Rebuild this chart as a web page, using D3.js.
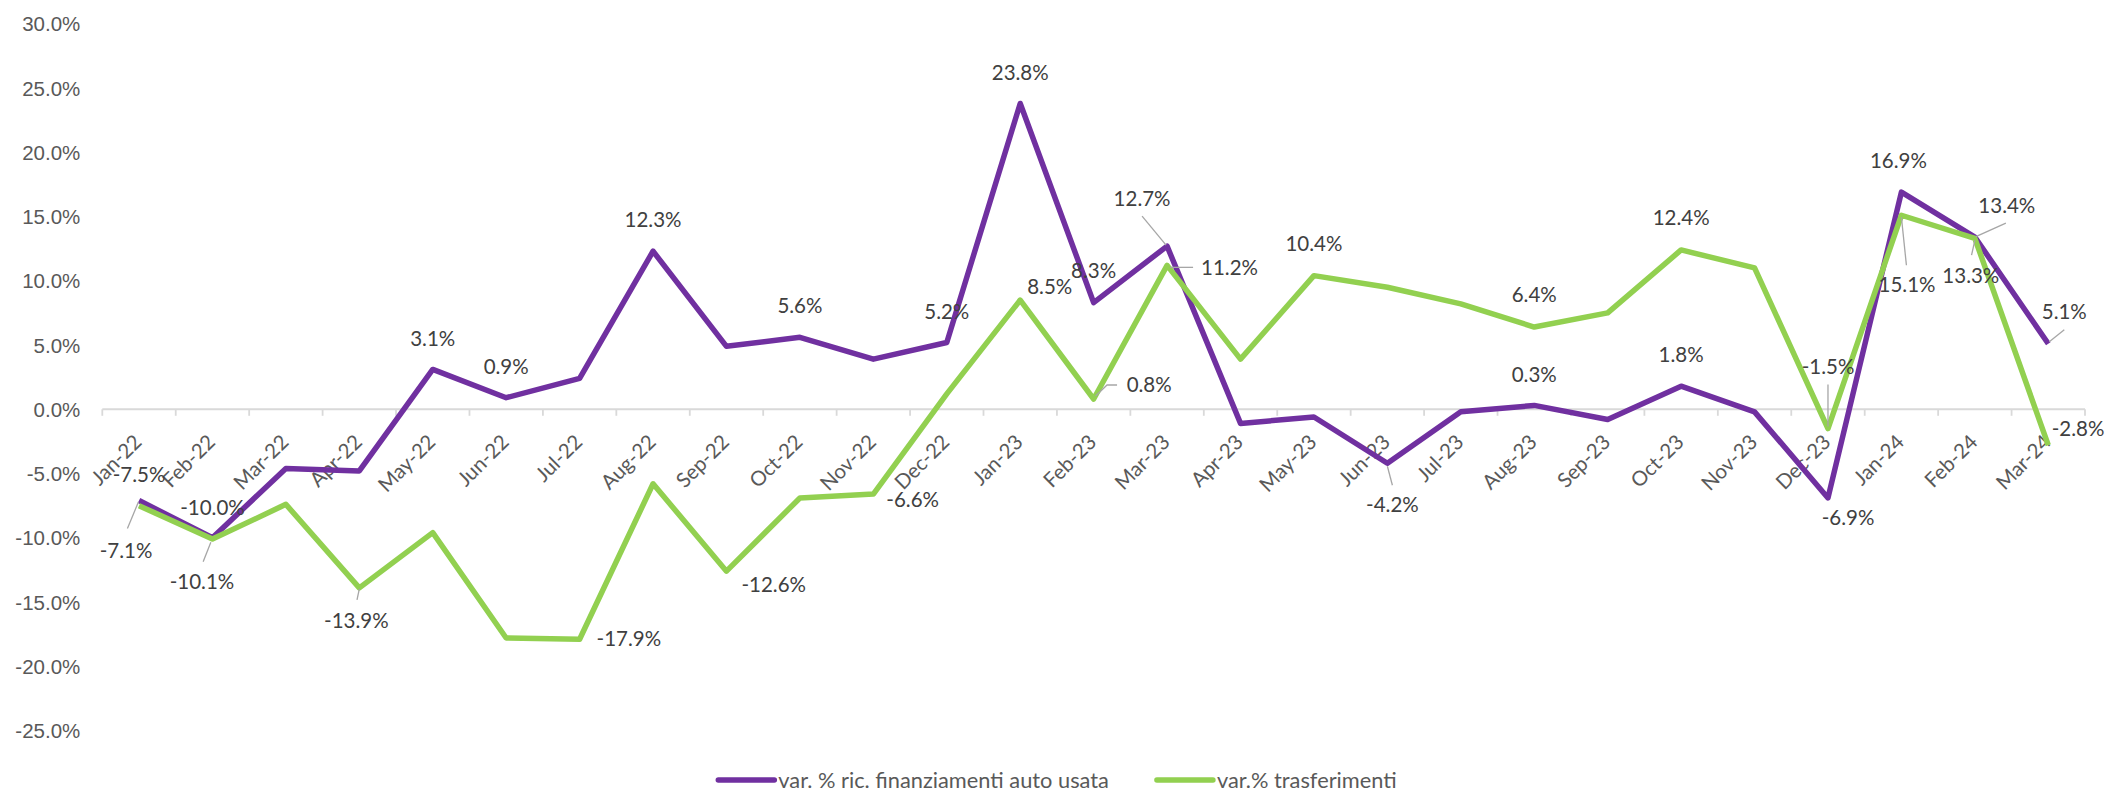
<!DOCTYPE html>
<html>
<head>
<meta charset="utf-8">
<script src="https://cdn.jsdelivr.net/npm/d3@7"></script>
<style>
  body { margin: 0; background: #fff; }
  svg { display: block; font-family: Lato, "Open Sans", sans-serif; }
  .yaxis text, .xaxis text { fill: #595959; font-size: 20.5px; }
  .dataLabel { fill: #404040; font-size: 20.5px; }
  .legend text { fill: #595959; font-size: 21.8px; }
  .leader { stroke: #a6a6a6; stroke-width: 1.3; fill: none; }
</style>
</head>
<body>
<div id="chart"></div>
<script>
// data
var categories = ["Jan-22", "Feb-22", "Mar-22", "Apr-22", "May-22", "Jun-22", "Jul-22", "Aug-22", "Sep-22",
  "Oct-22", "Nov-22", "Dec-22", "Jan-23", "Feb-23", "Mar-23", "Apr-23", "May-23", "Jun-23", "Jul-23",
  "Aug-23", "Sep-23", "Oct-23", "Nov-23", "Dec-23", "Jan-24", "Feb-24", "Mar-24"];

var finanziamenti = [-7.1, -10.0, -4.6, -4.8, 3.1, 0.9, 2.4, 12.3, 4.9, 5.6, 3.9, 5.2, 23.8, 8.3, 12.7,
  -1.1, -0.6, -4.2, -0.2, 0.3, -0.8, 1.8, -0.2, -6.9, 16.9, 13.4, 5.1];

var trasferimenti = [-7.5, -10.1, -7.4, -13.9, -9.6, -17.8, -17.9, -5.8, -12.6, -6.9, -6.6, 1.2, 8.5, 0.8, 11.2,
  3.9, 10.4, 9.5, 8.2, 6.4, 7.5, 12.4, 11.0, -1.5, 15.1, 13.3, -2.8];

var yTicks = [-25, -20, -15, -10, -5, 0, 5, 10, 15, 20, 25, 30];

var seriesNames = ["var. % ric. finanziamenti auto usata", "var.% trasferimenti"];
var colors = ["#7030a0", "#92d050"];

// where the data labels sit, relative to their point (a = text-anchor, lead = leader line)
var labelsFin = [
  { i: 0, dx: -13, dy: 50, lead: [[-11.6, 28], [-0.6, 1.5]] },
  { i: 1, dx: 0, dy: -30 },
  { i: 4, dx: 0, dy: -31 },
  { i: 5, dx: 0, dy: -31 },
  { i: 7, dx: 0, dy: -31 },
  { i: 9, dx: 0, dy: -31 },
  { i: 11, dx: 0, dy: -31 },
  { i: 12, dx: 0, dy: -31 },
  { i: 13, dx: 0, dy: -32 },
  { i: 14, dx: -25, dy: -47, lead: [[-25, -30], [-1, -1]] },
  { i: 17, dx: 5, dy: 42, lead: [[5, 22], [0, 3]] },
  { i: 19, dx: 0, dy: -31 },
  { i: 21, dx: 0, dy: -31 },
  { i: 23, dx: 20, dy: 20 },
  { i: 24, dx: -3, dy: -31 },
  { i: 25, dx: 32, dy: -31, lead: [[31, -14], [1, -0.5]] },
  { i: 26, dx: 16, dy: -32, lead: [[16, -14], [1, -2]] }
];

var labelsTras = [
  { i: 0, dx: 0, dy: -31 },
  { i: 1, dx: -10.5, dy: 43, lead: [[-9.3, 22.6], [-1.6, 3.3]] },
  { i: 3, dx: -3, dy: 33, lead: [[-2.3, 12], [0, 1]] },
  { i: 6, dx: 17, dy: 0, a: "start" },
  { i: 8, dx: 15, dy: 14, a: "start" },
  { i: 10, dx: 13, dy: 6, a: "start" },
  { i: 12, dx: 7, dy: -13, a: "start" },
  { i: 13, dx: 33, dy: -14, a: "start", lead: [[23.4, -14], [13.4, -14], [2, -3]] },
  { i: 14, dx: 34, dy: 2.5, a: "start", lead: [[26, 2], [3, 2]] },
  { i: 16, dx: 0, dy: -32 },
  { i: 19, dx: 0, dy: -32 },
  { i: 21, dx: 0, dy: -32 },
  { i: 23, dx: 0, dy: -62, lead: [[0, -44], [0, -2]] },
  { i: 24, dx: 5.6, dy: 70, lead: [[5, 50], [0, 2]] },
  { i: 25, dx: -4, dy: 37.5, lead: [[-3.3, 16.7], [0, 2]] },
  { i: 26, dx: 3.4, dy: -16, a: "start" }
];

var width = 2107, height = 794;
var margin = { top: 23.8, right: 22, bottom: 63.5, left: 102.3 };
var plotW = width - margin.left - margin.right;
var plotH = height - margin.top - margin.bottom;

var svg = d3.select("#chart").append("svg")
  .attr("width", width)
  .attr("height", height);

var plot = svg.append("g")
  .attr("transform", "translate(" + margin.left + "," + margin.top + ")");

var xScale = d3.scaleBand()
  .domain(categories)
  .range([0, plotW])
  .padding(0);

var yScale = d3.scaleLinear()
  .domain([-25, 30])
  .range([plotH, 0]);

var xc = function(i) { return xScale(categories[i]) + xScale.bandwidth() / 2; };

// y axis: labels only
var yAxis = d3.axisLeft(yScale)
  .tickValues(yTicks)
  .tickSize(0)
  .tickPadding(22)
  .tickFormat(d => d.toFixed(1) + "%");

plot.append("g")
  .attr("class", "yaxis")
  .call(yAxis)
  .call(g => g.select(".domain").remove())
  .selectAll("text")
  .attr("dy", "0.35em");

// x axis at zero, ticks between categories
var zeroY = yScale(0);
var xAxisG = plot.append("g")
  .attr("class", "xaxis")
  .attr("transform", "translate(0," + zeroY + ")");

xAxisG.append("line")
  .attr("x1", 0).attr("x2", plotW)
  .attr("stroke", "#d9d9d9").attr("stroke-width", 1.8);

var bounds = categories.map(c => xScale(c)).concat([plotW]);
xAxisG.selectAll(".tk").data(bounds).enter().append("line")
  .attr("class", "tk")
  .attr("x1", d => d).attr("x2", d => d)
  .attr("y1", 0).attr("y2", 6.5)
  .attr("stroke", "#d9d9d9").attr("stroke-width", 1.8);

xAxisG.selectAll(".xl").data(categories).enter().append("text")
  .attr("class", "xl")
  .attr("text-anchor", "end")
  .attr("transform", (d, i) => "translate(" + (xc(i) + 4) + ",34) rotate(-45)")
  .text(d => d);

// lines
var line = d3.line()
  .x((d, i) => xc(i))
  .y(d => yScale(d));

[finanziamenti, trasferimenti].forEach(function(s, k) {
  plot.append("path")
    .datum(s)
    .attr("fill", "none")
    .attr("stroke", colors[k])
    .attr("stroke-width", 5.5)
    .attr("stroke-linejoin", "round")
    .attr("d", line);
});

// data labels + leader lines
function addLabels(values, placements) {
  placements.forEach(function(p) {
    var px = xc(p.i), py = yScale(values[p.i]);
    if (p.lead) {
      plot.append("path")
        .attr("class", "leader")
        .attr("d", d3.line()(p.lead.map(q => [px + q[0], py + q[1]])));
    }
    plot.append("text")
      .attr("class", "dataLabel")
      .attr("x", px + p.dx)
      .attr("y", py + p.dy)
      .attr("dy", "0.35em")
      .attr("text-anchor", p.a || "middle")
      .text(values[p.i].toFixed(1) + "%");
  });
}
addLabels(finanziamenti, labelsFin);
addLabels(trasferimenti, labelsTras);

// legend, centred under the chart
var legend = svg.append("g").attr("class", "legend");
var items = legend.selectAll("g").data(seriesNames).enter().append("g");
items.append("line")
  .attr("x1", 0).attr("x2", 56)
  .attr("stroke", (d, i) => colors[i])
  .attr("stroke-width", 5.5)
  .attr("stroke-linecap", "round");
items.append("text")
  .attr("x", 60)
  .attr("dy", "0.35em")
  .text(d => d);

var xPos = 0, offsets = [];
items.each(function() {
  offsets.push(xPos);
  xPos += 60 + this.querySelector("text").getComputedTextLength() + 48;
});
var legendW = xPos - 48;
var legendX = 1057.5 - legendW / 2;
items.attr("transform", (d, i) => "translate(" + (legendX + offsets[i]) + ",780)");
</script>
</body>
</html>
